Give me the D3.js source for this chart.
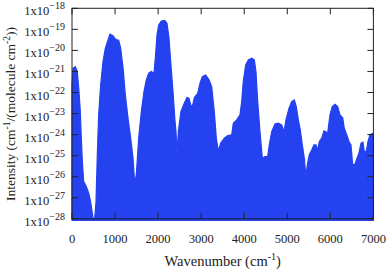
<!DOCTYPE html>
<html>
<head>
<meta charset="utf-8">
<script src="https://cdn.jsdelivr.net/npm/d3@7"></script>
<style>
  body { margin: 0; background: #fff; }
  svg { display: block; font-family: "Liberation Serif", "DejaVu Serif", serif; }
</style>
</head>
<body>
<svg id="chart"></svg>
<script>
const WIDTH = 390;
const HEIGHT = 273;
const FILLCOLOR = "#2442f0";

// upper envelope of the spectrum (log10 of intensity)
const wavenumber = [
  0, 23, 77, 123, 163, 193, 216, 240, 271, 333, 387, 433, 488, 526, 557, 588,
  619, 666, 720, 774, 836, 883, 952, 991, 1038, 1084, 1131, 1187, 1238, 1300,
  1363, 1417, 1456, 1494, 1548, 1610, 1672, 1726, 1781, 1842, 1904, 1935, 1974,
  2013, 2075, 2153, 2206, 2253, 2292, 2346, 2390, 2415, 2439, 2469, 2531, 2609,
  2671, 2717, 2757, 2795, 2842, 2919, 2973, 3027, 3105, 3182, 3244, 3305, 3352,
  3398, 3453, 3537, 3616, 3709, 3746, 3825, 3902, 3941, 3978, 4034, 4095, 4174,
  4234, 4273, 4313, 4366, 4420, 4482, 4545, 4582, 4638, 4714, 4791, 4870, 4923,
  4970, 5040, 5102, 5163, 5209, 5256, 5302, 5349, 5395, 5434, 5465, 5511, 5567,
  5620, 5666, 5706, 5744, 5799, 5852, 5899, 5938, 5992, 6045, 6108, 6170, 6224,
  6287, 6324, 6380, 6433, 6479, 6519, 6572, 6619, 6665, 6712, 6758, 6788, 6835,
  6874, 6920, 6974, 7000
];
const logIntensity = [
  -21.7, -20.85, -20.77, -21.0, -21.96, -22.9, -24.16, -25.28, -26.23, -26.47,
  -26.78, -27.18, -27.97, -28.0, -27.2, -24.96, -23.06, -21.64, -20.53, -19.9,
  -19.5, -19.23, -19.3, -19.42, -19.5, -19.52, -19.9, -20.85, -22.1, -23.2,
  -24.17, -25.12, -26.3, -25.9, -24.17, -22.9, -21.96, -21.4, -21.08, -21.0,
  -21.08, -20.37, -19.27, -18.79, -18.6, -18.57, -18.71, -19.42, -20.53, -21.96,
  -23.3, -23.86, -24.96, -23.86, -22.9, -22.5, -22.24, -22.27, -22.59, -22.67,
  -22.24, -22.04, -21.56, -21.25, -21.17, -21.4, -21.72, -22.9, -24.17, -24.8,
  -24.4, -24.17, -24.05, -24.01, -23.46, -23.3, -23.06, -22.43, -21.48, -20.69,
  -20.45, -20.37, -20.45, -21.0, -22.43, -23.86, -25.12, -25.04, -25.04, -24.49,
  -23.86, -23.5, -23.46, -23.54, -23.86, -23.3, -22.75, -22.43, -22.35, -22.67,
  -23.3, -23.78, -24.49, -25.12, -25.99, -25.44, -24.96, -24.73, -24.49, -24.49,
  -24.73, -24.33, -24.17, -23.82, -23.86, -23.93, -23.06, -22.67, -22.56, -22.67,
  -23.06, -23.2, -23.7, -24.01, -24.33, -24.49, -25.44, -25.4, -25.12, -24.88,
  -24.41, -24.36, -24.8, -24.8, -24.33, -24.01, -23.95, -24.0
];
const xTicks = [0, 1000, 2000, 3000, 4000, 5000, 6000, 7000];
const yExponents = [-18, -19, -20, -21, -22, -23, -24, -25, -26, -27, -28];

const margin = { left: 72, right: 16.6, top: 8.3, bottom: 54.2 };

const svg = d3.select("#chart").attr("width", WIDTH).attr("height", HEIGHT);
svg.append("rect").attr("width", WIDTH).attr("height", HEIGHT).attr("fill", "#fff");

const xScale = d3.scaleLinear()
  .domain([0, 7000])
  .range([margin.left, WIDTH - margin.right]);
const yScale = d3.scaleLog()
  .domain([1e-28, 1e-18])
  .range([HEIGHT - margin.bottom, margin.top]);

const spectrum = wavenumber.map((w, i) => ({ w: w, v: Math.pow(10, logIntensity[i]) }));

/* filled spectrum, slightly spilling past the frame like the original */
const area = d3.area()
  .x((d) => xScale(d.w))
  .y0(yScale(1e-28) + 1.5)
  .y1((d) => yScale(d.v));

svg.append("path")
  .datum(spectrum)
  .attr("fill", FILLCOLOR)
  .attr("stroke", FILLCOLOR)
  .attr("stroke-width", 1.2)
  .attr("d", area);

/* frame with inward ticks on all four sides */
const x0 = xScale.range()[0];
const x1 = xScale.range()[1];
const y0 = yScale.range()[0];
const y1 = yScale.range()[1];
const TICK = 6;

const frame = svg.append("g").attr("stroke", "#222").attr("stroke-width", 1).attr("fill", "none");
frame.append("rect").attr("x", x0).attr("y", y1).attr("width", x1 - x0).attr("height", y0 - y1);

xTicks.forEach((t) => {
  const x = xScale(t);
  frame.append("line").attr("x1", x).attr("x2", x).attr("y1", y1).attr("y2", y1 + TICK);
  frame.append("line").attr("x1", x).attr("x2", x).attr("y1", y0).attr("y2", y0 - TICK);
});
yExponents.forEach((e) => {
  const y = yScale(Math.pow(10, e));
  frame.append("line").attr("x1", x0).attr("x2", x0 + TICK).attr("y1", y).attr("y2", y);
  frame.append("line").attr("x1", x1).attr("x2", x1 - TICK).attr("y1", y).attr("y2", y);
});

/* tick labels */
svg.append("g")
  .selectAll("text")
  .data(xTicks)
  .enter()
  .append("text")
  .attr("x", (d) => xScale(d))
  .attr("y", y0 + 24)
  .attr("text-anchor", "middle")
  .attr("font-size", 12.5)
  .attr("fill", "#222")
  .text((d) => d);

const yLabels = svg.append("g")
  .selectAll("text")
  .data(yExponents)
  .enter()
  .append("text")
  .attr("x", x0 - 7)
  .attr("y", (d) => yScale(Math.pow(10, d)) + 7)
  .attr("text-anchor", "end")
  .attr("font-size", 12.5)
  .attr("fill", "#222");
yLabels.append("tspan").text("1x10");
yLabels.append("tspan")
  .attr("dy", -6)
  .attr("font-size", 10)
  .text((d) => "\u2212" + Math.abs(d));

/* axis titles */
const xTitle = svg.append("text")
  .attr("x", (x0 + x1) / 2)
  .attr("y", 266)
  .attr("text-anchor", "middle")
  .attr("font-size", 14.5)
  .attr("fill", "#222");
xTitle.append("tspan").text("Wavenumber (cm");
xTitle.append("tspan").attr("dy", -6).attr("font-size", 10).text("-1");
xTitle.append("tspan").attr("dy", 6).text(")");

const yTitle = svg.append("text")
  .attr("transform", `translate(15,114) rotate(-90)`)
  .attr("text-anchor", "middle")
  .attr("font-size", 13.5)
  .attr("fill", "#222");
yTitle.append("tspan").text("Intensity (cm");
yTitle.append("tspan").attr("dy", -5).attr("font-size", 9.5).text("-1");
yTitle.append("tspan").attr("dy", 5).text("/(molecule cm");
yTitle.append("tspan").attr("dy", -5).attr("font-size", 9.5).text("-2");
yTitle.append("tspan").attr("dy", 5).text("))");
</script>
</body>
</html>
